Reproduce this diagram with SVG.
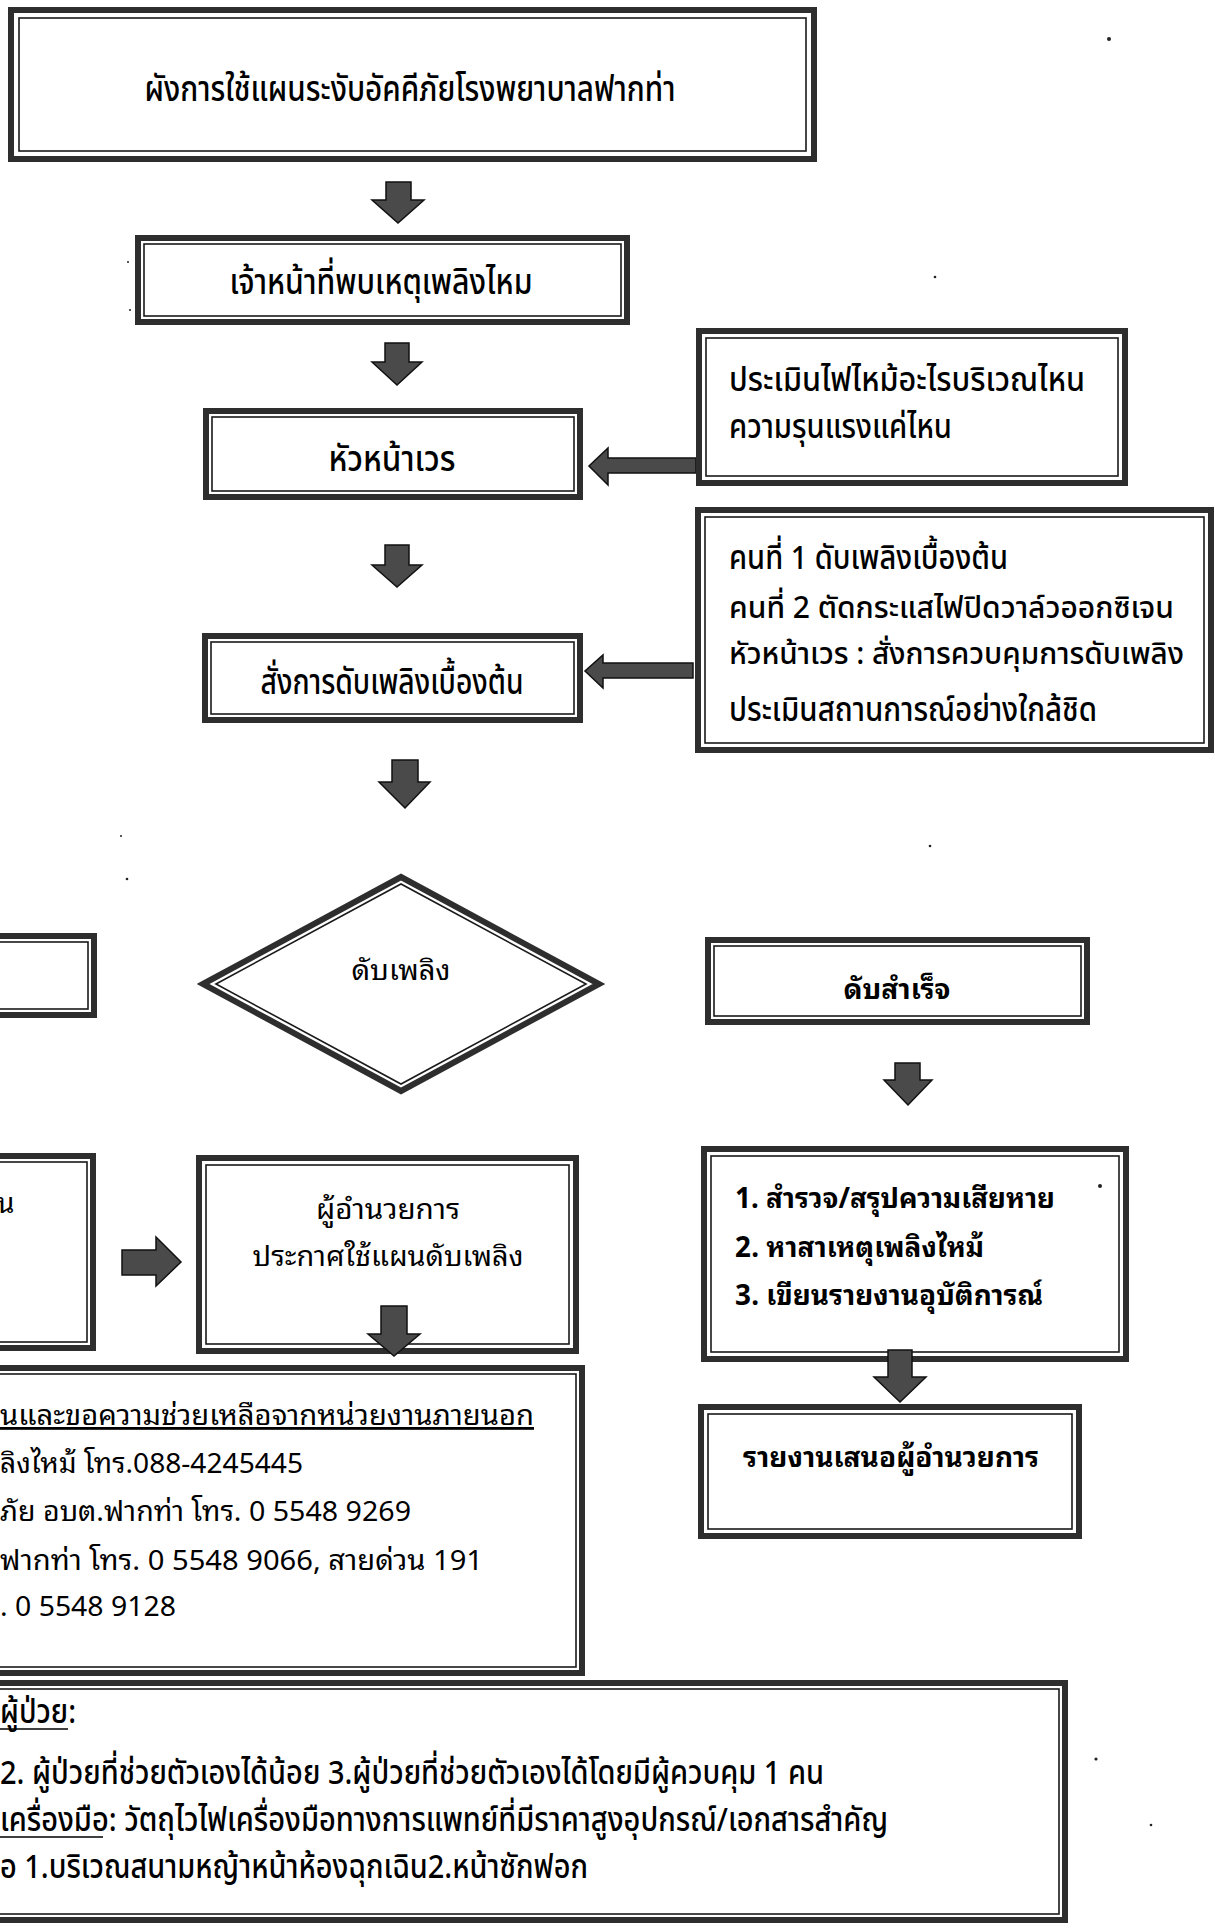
<svg xmlns="http://www.w3.org/2000/svg" width="1215" height="1929" viewBox="0 0 1215 1929">
<style>
.o{fill:none;stroke:#2e2e2e;stroke-width:6}
.i{fill:none;stroke:#1a1a1a;stroke-width:1.6}
.ar{fill:#4a4a4a;stroke:#111;stroke-width:1.5;stroke-linejoin:miter}
.n{font-family:"Noto Sans Thai","Noto Sans","DejaVu Sans",sans-serif;font-size:36px;font-weight:500;fill:#000}
.s{font-size:33px}
.t{font-size:30px}
.w{font-family:"Noto Sans Thai Looped","Noto Sans Thai","Noto Sans",sans-serif;font-size:28px;fill:#000}
.b{font-weight:bold}
.c{text-anchor:middle}
.ul{stroke:#000;stroke-width:1.6}
.sp{fill:#222}
</style>
<rect width="1215" height="1929" fill="#fff"/>
<g id="connectors">
<polygon class="ar" points="386,182 411,182 411,200 424,200 398,223 372,200 386,200"/>
<polygon class="ar" points="385,343 409,343 409,362 422,362 397,385 372,362 385,362"/>
<polygon class="ar" points="385,545 409,545 409,565 422,565 397,587 372,565 385,565"/>
<polygon class="ar" points="392,760 418,760 418,782 430,782 405,808 379,782 392,782"/>
<polygon class="ar" points="895,1063 920,1063 920,1080 932,1080 908,1105 884,1080 895,1080"/>
<polygon class="ar" points="696,458 608,458 608,448 589,466 608,485 608,473 696,473"/>
<polygon class="ar" points="693,663 603,663 603,655 585,671 603,688 603,678 693,678"/>
<polygon class="ar" points="122,1250 156,1250 156,1237 181,1262 156,1286 156,1275 122,1275"/>
</g>
<g id="title">
<rect class="o" x="11" y="10" width="803" height="149"/>
<rect class="i" x="19" y="18" width="787" height="133"/>
<text class="n c" x="410" y="101" textLength="531" lengthAdjust="spacingAndGlyphs">ผังการใช้แผนระงับอัคคีภัยโรงพยาบาลฟากท่า</text>
</g>
<g id="staff">
<rect class="o" x="138" y="238" width="489" height="84"/>
<rect class="i" x="144" y="244" width="477" height="72"/>
<text class="n c" x="381" y="294" textLength="303" lengthAdjust="spacingAndGlyphs">เจ้าหน้าที่พบเหตุเพลิงไหม</text>
</g>
<g id="head">
<rect class="o" x="206" y="411" width="374" height="86"/>
<rect class="i" x="212" y="417" width="362" height="74"/>
<text class="n c" x="392" y="471" textLength="127" lengthAdjust="spacingAndGlyphs">หัวหน้าเวร</text>
</g>
<g id="assess">
<rect class="o" x="699" y="331" width="426" height="152"/>
<rect class="i" x="706" y="338" width="412" height="138"/>
<text class="n s" x="729" y="391" textLength="356" lengthAdjust="spacingAndGlyphs">ประเมินไฟไหม้อะไรบริเวณไหน</text>
<text class="n s" x="729" y="438" textLength="223" lengthAdjust="spacingAndGlyphs">ความรุนแรงแค่ไหน</text>
</g>
<g id="order">
<rect class="o" x="205" y="636" width="375" height="84"/>
<rect class="i" x="211" y="642" width="363" height="72"/>
<text class="n c" x="392" y="694" textLength="263" lengthAdjust="spacingAndGlyphs">สั่งการดับเพลิงเบื้องต้น</text>
</g>
<g id="tasks">
<rect class="o" x="698" y="510" width="513" height="240"/>
<rect class="i" x="705" y="517" width="499" height="226"/>
<text class="n s" x="729" y="569" textLength="279" lengthAdjust="spacingAndGlyphs">คนที่ 1 ดับเพลิงเบื้องต้น</text>
<text class="n t" x="729" y="618" textLength="445" lengthAdjust="spacingAndGlyphs">คนที่ 2 ตัดกระแสไฟปิดวาล์วออกซิเจน</text>
<text class="n t" x="729" y="664" textLength="455" lengthAdjust="spacingAndGlyphs">หัวหน้าเวร : สั่งการควบคุมการดับเพลิง</text>
<text class="n s" x="729" y="721" textLength="368" lengthAdjust="spacingAndGlyphs">ประเมินสถานการณ์อย่างใกล้ชิด</text>
</g>
<g id="left1">
<rect class="o" x="-17" y="936" width="111" height="79"/>
<rect class="i" x="-11" y="942" width="99" height="67"/>
</g>
<g id="decision">
<polygon class="o" points="203,984 401,877 599,984 401,1091"/>
<polygon class="i" points="216,984 401,884 586,984 401,1084"/>
<text class="w c" x="401" y="980" textLength="99" lengthAdjust="spacingAndGlyphs">ดับเพลิง</text>
</g>
<g id="done">
<rect class="o" x="708" y="940" width="379" height="82"/>
<rect class="i" x="714" y="946" width="367" height="70"/>
<text class="w b c" x="897" y="999" textLength="107" lengthAdjust="spacingAndGlyphs">ดับสำเร็จ</text>
</g>
<g id="steps">
<rect class="o" x="704" y="1149" width="422" height="210"/>
<rect class="i" x="711" y="1156" width="408" height="196"/>
<text class="w b" x="735" y="1208" textLength="320" lengthAdjust="spacingAndGlyphs">1. สำรวจ/สรุปความเสียหาย</text>
<text class="w b" x="735" y="1257" textLength="249" lengthAdjust="spacingAndGlyphs">2. หาสาเหตุเพลิงไหม้</text>
<text class="w b" x="735" y="1305" textLength="308" lengthAdjust="spacingAndGlyphs">3. เขียนรายงานอุบัติการณ์</text>
</g>
<g id="report">
<rect class="o" x="701" y="1407" width="378" height="129"/>
<rect class="i" x="708" y="1414" width="364" height="115"/>
<text class="w b" x="743" y="1467" textLength="296" lengthAdjust="spacingAndGlyphs">รายงานเสนอผู้อำนวยการ</text>
</g>
<g id="left2">
<rect class="o" x="-17" y="1156" width="110" height="192"/>
<rect class="i" x="-11" y="1162" width="98" height="180"/>
<text class="w" x="-3" y="1213">น</text>
</g>
<g id="director">
<rect class="o" x="199" y="1158" width="377" height="193"/>
<rect class="i" x="206" y="1165" width="363" height="179"/>
<text class="w c" x="388" y="1219" textLength="144" lengthAdjust="spacingAndGlyphs">ผู้อำนวยการ</text>
<text class="w c" x="388" y="1266" textLength="271" lengthAdjust="spacingAndGlyphs">ประกาศใช้แผนดับเพลิง</text>
</g>
<g id="contacts">
<rect class="o" x="-17" y="1368" width="599" height="305"/>
<rect class="i" x="-11" y="1374" width="587" height="293"/>
<text class="w" x="0" y="1425" textLength="534" lengthAdjust="spacingAndGlyphs" text-decoration="underline">นและขอความช่วยเหลือจากหน่วยงานภายนอก</text>
<text class="w" x="0" y="1473" textLength="303" lengthAdjust="spacingAndGlyphs">ลิงไหม้ โทร.088-4245445</text>
<text class="w" x="0" y="1521" textLength="411" lengthAdjust="spacingAndGlyphs">ภัย อบต.ฟากท่า โทร. 0 5548 9269</text>
<text class="w" x="0" y="1570" textLength="483" lengthAdjust="spacingAndGlyphs">ฟากท่า โทร. 0 5548 9066, สายด่วน 191</text>
<text class="w" x="0" y="1616" textLength="176" lengthAdjust="spacingAndGlyphs">. 0 5548 9128</text>
</g>
<g id="arrows-over">
<polygon class="ar" points="888,1350 912,1350 912,1377 926,1377 900,1402 874,1377 888,1377"/>
<polygon class="ar" points="381,1306 407,1306 407,1334 420,1334 394,1356 368,1334 381,1334"/>
</g>
<g id="evacuation">
<rect class="o" x="-17" y="1683" width="1082" height="237"/>
<rect class="i" x="-11" y="1689" width="1070" height="225"/>
<text class="n s" x="0" y="1723" textLength="76" lengthAdjust="spacingAndGlyphs">ผู้ป่วย:</text>
<line class="ul" x1="0" y1="1729" x2="68" y2="1729"/>
<text class="n s" x="0" y="1784" textLength="824" lengthAdjust="spacingAndGlyphs">2. ผู้ป่วยที่ช่วยตัวเองได้น้อย 3.ผู้ป่วยที่ช่วยตัวเองได้โดยมีผู้ควบคุม 1 คน</text>
<text class="n s" x="0" y="1831" textLength="888" lengthAdjust="spacingAndGlyphs">เครื่องมือ: วัตถุไวไฟเครื่องมือทางการแพทย์ที่มีราคาสูงอุปกรณ์/เอกสารสำคัญ</text>
<line class="ul" x1="0" y1="1837" x2="103" y2="1837"/>
<text class="n s" x="0" y="1878" textLength="588" lengthAdjust="spacingAndGlyphs">อ 1.บริเวณสนามหญ้าหน้าห้องฉุกเฉิน2.หน้าซักฟอก</text>
</g>
<g id="specks">
<circle class="sp" cx="1109" cy="39" r="2"/>
<circle class="sp" cx="935" cy="277" r="1.3"/>
<circle class="sp" cx="127" cy="879" r="1.3"/>
<circle class="sp" cx="930" cy="846" r="1.3"/>
<circle class="sp" cx="121" cy="836" r="1"/>
<circle class="sp" cx="1096" cy="1759" r="1.6"/>
<circle class="sp" cx="1151" cy="1825" r="1.3"/>
<circle class="sp" cx="128" cy="262" r="1"/>
<circle class="sp" cx="130" cy="310" r="1"/>
<circle class="sp" cx="1100" cy="1186" r="2"/>
</g>
</svg>
